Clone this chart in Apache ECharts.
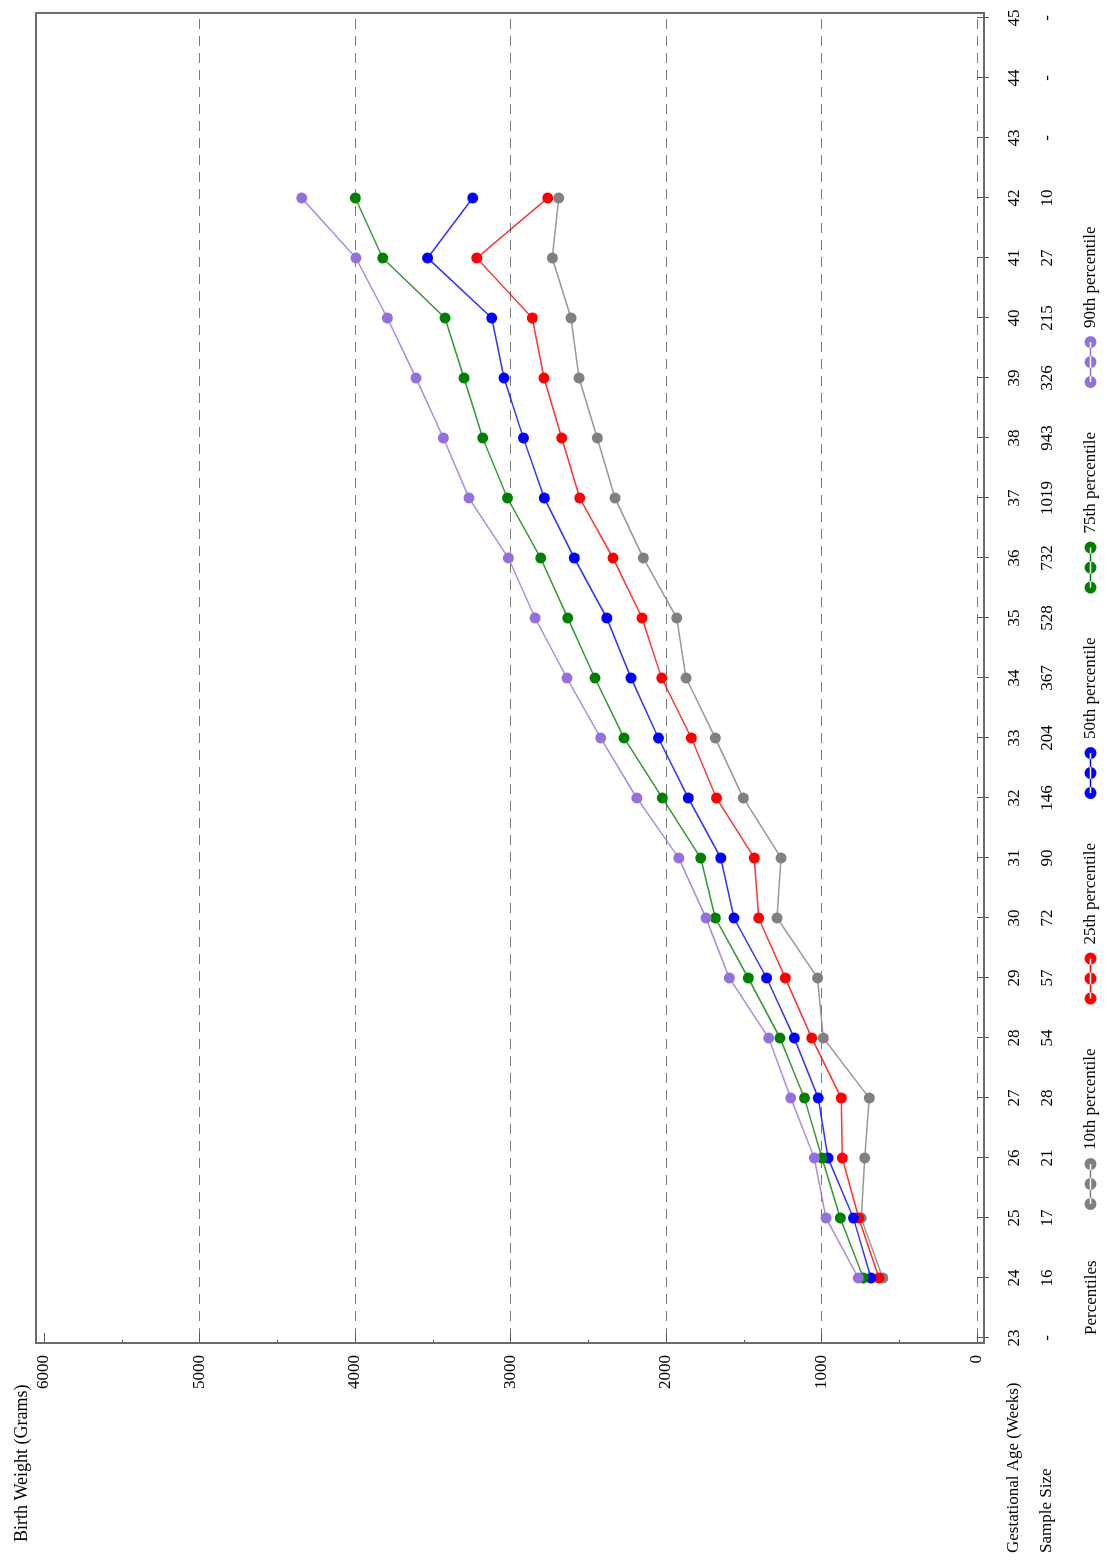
<!DOCTYPE html>
<html>
<head>
<meta charset="utf-8">
<script src="https://cdn.jsdelivr.net/npm/echarts@6/dist/echarts.min.js"></script>
<style>
  html, body { margin: 0; padding: 0; background: #fff; }
  #page { position: relative; width: 1107px; height: 1560px; overflow: hidden; }
  /* the chart is laid out landscape and turned a quarter turn counter-clockwise */
  #chart { position: absolute; left: 0; top: 0; width: 1560px; height: 1107px;
           transform-origin: 0 0; transform: translate(0, 1560px) rotate(-90deg); }
</style>
</head>
<body>
<div id="page"><div id="chart"></div></div>
<script>
// Gestational age (weeks) of each plotted point
const ages = [24, 25, 26, 27, 28, 29, 30, 31, 32, 33, 34, 35, 36, 37, 38, 39, 40, 41, 42];

// Birth weight percentiles (grams)
const p10 = [606, 745, 722, 693, 988, 1025, 1286, 1260, 1503, 1683, 1871, 1931, 2146, 2328, 2442, 2559, 2611, 2731, 2690];
const p25 = [630, 760, 866, 873, 1063, 1233, 1404, 1432, 1676, 1837, 2028, 2154, 2341, 2555, 2671, 2785, 2860, 3217, 2761];
const p50 = [682, 795, 958, 1021, 1175, 1353, 1563, 1648, 1857, 2049, 2225, 2381, 2590, 2783, 2917, 3042, 3121, 3533, 3243];
const p75 = [731, 879, 997, 1110, 1267, 1471, 1683, 1777, 2024, 2270, 2457, 2632, 2806, 3020, 3179, 3299, 3421, 3822, 3998];
const p90 = [763, 971, 1046, 1198, 1340, 1593, 1743, 1918, 2188, 2420, 2637, 2842, 3014, 3267, 3432, 3608, 3792, 3994, 4343];

// Axis tick ages and the sample size printed under each one
const tickAges = [23, 24, 25, 26, 27, 28, 29, 30, 31, 32, 33, 34, 35, 36, 37, 38, 39, 40, 41, 42, 43, 44, 45];
const sampleSize = ['-', '16', '17', '21', '28', '54', '57', '72', '90', '146', '204', '367', '528', '732', '1019', '943', '326', '215', '27', '10', '-', '-', '-'];

const seriesNames = ['10th percentile', '25th percentile', '50th percentile', '75th percentile', '90th percentile'];
const seriesColors = ['#808080', '#ff0000', '#0000ff', '#008000', '#9370db'];
const seriesValues = [p10, p25, p50, p75, p90];

const FONT = '"Liberation Serif", "DejaVu Serif", serif';
const FS = 17;

// plot frame (landscape coordinates)
const frame = { x: 217, y: 36, w: 1330, h: 948 };

const chart = echarts.init(document.getElementById('chart'), null, { renderer: 'canvas', width: 1560, height: 1107 });

// three dots joined by a line, used as legend marker
const dotsIcon = 'path://M0,6 a6,6 0 1,0 12,0 a6,6 0 1,0 -12,0 Z' +
  ' M20,6 a6,6 0 1,0 12,0 a6,6 0 1,0 -12,0 Z' +
  ' M40,6 a6,6 0 1,0 12,0 a6,6 0 1,0 -12,0 Z' +
  ' M6,5.2 L46,5.2 L46,6.8 L6,6.8 Z';

const option = {
  animation: false,
  backgroundColor: '#fff',
  textStyle: { fontFamily: FONT },
  grid: { left: 222, right: 18, top: 44, bottom: 130, containLabel: false },
  xAxis: [
    {
      type: 'value', min: 23, max: 45, interval: 1, position: 'bottom', offset: 7,
      axisLine: { show: false },
      axisTick: { show: true, length: 12, lineStyle: { color: '#555', width: 1 } },
      axisLabel: { margin: 22, fontSize: FS, color: '#000', fontFamily: FONT },
      splitLine: { show: false }
    },
    {
      type: 'value', min: 23, max: 45, interval: 1, position: 'bottom', offset: 7,
      axisLine: { show: false }, axisTick: { show: false },
      axisLabel: { margin: 55, fontSize: FS, color: '#000', fontFamily: FONT,
        formatter: v => sampleSize[tickAges.indexOf(Math.round(v))] },
      splitLine: { show: false }
    }
  ],
  yAxis: {
    type: 'value', min: 0, max: 6000, interval: 1000, position: 'left', offset: 5,
    axisLine: { show: false },
    axisTick: { show: true, inside: true, length: 10, lineStyle: { color: '#555' } },
    minorTick: { show: true, splitNumber: 2, length: 3, lineStyle: { color: '#555' } },
    axisLabel: { margin: 12, fontSize: FS, color: '#000', fontFamily: FONT,
      formatter: v => String(v) },
    splitLine: { show: true, showMaxLine: false, lineStyle: { color: '#7a7a7a', type: [10, 7], width: 1 } }
  },
  legend: {
    left: 350, top: 1082, itemWidth: 52, itemHeight: 12, itemGap: 44, padding: 0,
    icon: dotsIcon,
    textStyle: { fontSize: FS, color: '#000', fontFamily: FONT, padding: [0, 0, 0, 3] },
    data: seriesNames
  },
  graphic: [
    { type: 'rect', z: 100, silent: true,
      shape: { x: frame.x, y: frame.y, width: frame.w, height: frame.h },
      style: { fill: 'none', stroke: '#6b6b6b', lineWidth: 2 } },
    { type: 'text', left: 18, top: 13, style: { text: 'Birth Weight (Grams)', font: '18px ' + FONT, fill: '#000' } },
    { type: 'text', left: 7, top: 1005, style: { text: 'Gestational Age (Weeks)', font: FS + 'px ' + FONT, fill: '#000' } },
    { type: 'text', left: 7, top: 1038, style: { text: 'Sample Size', font: FS + 'px ' + FONT, fill: '#000' } },
    { type: 'text', left: 225, top: 1083, style: { text: 'Percentiles', font: FS + 'px ' + FONT, fill: '#000' } }
  ],
  series: seriesNames.map((name, k) => ({
    type: 'line', name: name,
    data: ages.map((a, i) => [a, seriesValues[k][i]]),
    symbol: 'circle', symbolSize: 11, showSymbol: true,
    itemStyle: { color: seriesColors[k] },
    lineStyle: { color: seriesColors[k], width: 1.5, opacity: 0.8 },
    emphasis: { disabled: true }
  }))
};

chart.setOption(option);
</script>
</body>
</html>
